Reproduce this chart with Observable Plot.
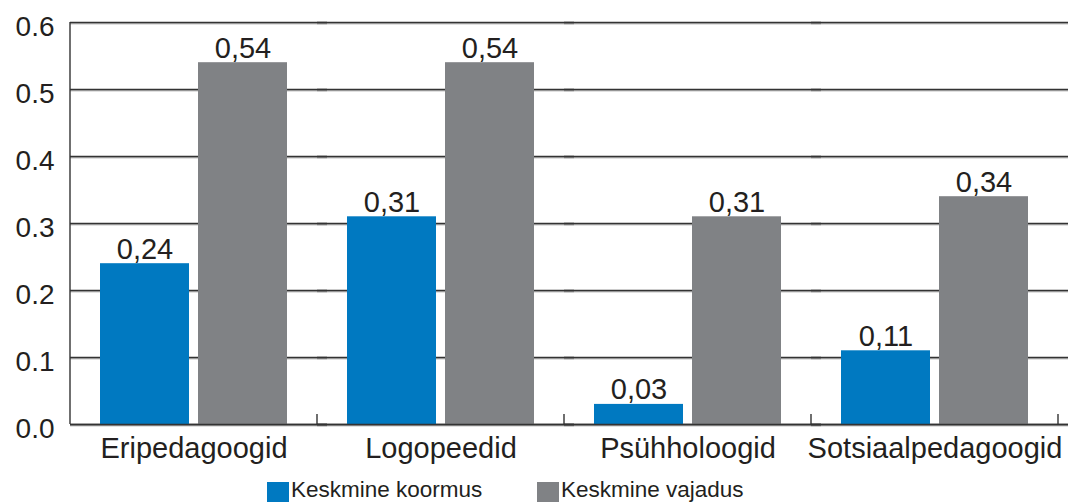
<!DOCTYPE html>
<html>
<head>
<meta charset="utf-8">
<script src="https://cdn.jsdelivr.net/npm/d3@7"></script>
<script src="https://cdn.jsdelivr.net/npm/@observablehq/plot@0.6"></script>
<style>
  html, body { margin: 0; padding: 0; background: #fff; }
  body { width: 1068px; height: 502px; overflow: hidden; font-family: "Liberation Sans", Arial, Helvetica, sans-serif; color: #231f20; }
  #legend { position: relative; height: 23px; margin-top: 9px; font-size: 22.5px; }
  .item { position: absolute; top: 0; display: flex; align-items: flex-start; white-space: nowrap; }
  .sw { width: 22px; height: 20px; margin-right: 2px; margin-top: 3px; }
  .lbl { line-height: 1; }
</style>
</head>
<body>
<div id="chart"></div>
<div id="legend"></div>
<script>
const categories = ["Eripedagoogid", "Logopeedid", "Psühholoogid", "Sotsiaalpedagoogid"];
const series = ["Keskmine koormus", "Keskmine vajadus"];
const koormus = [0.24, 0.31, 0.03, 0.11];
const vajadus = [0.54, 0.54, 0.31, 0.34];
const yTicks = [0, 0.1, 0.2, 0.3, 0.4, 0.5, 0.6];
const colors = ["#0079c1", "#808285"];

const data = categories.flatMap((c, i) => [
  {category: c, series: series[0], value: koormus[i]},
  {category: c, series: series[1], value: vajadus[i]}
]);
const fmtComma = v => d3.format(".2f")(v).replace(".", ",");

const plot = Plot.plot({
  width: 1068,
  height: 470,
  marginLeft: 69,
  marginRight: 10,
  marginTop: 22,
  marginBottom: 46,
  style: {fontFamily: "'Liberation Sans', Arial, Helvetica, sans-serif", color: "#231f20", background: "#fff"},
  fx: {domain: categories, padding: 0, label: null},
  x: {domain: series, paddingInner: 0.0909, paddingOuter: 0.293, axis: null},
  y: {domain: [0, 0.6], axis: null},
  color: {domain: series, range: colors},
  marks: [
    Plot.gridY(yTicks, {stroke: "#9a9a9a", strokeOpacity: 1, strokeWidth: 1, dy: 1.3, insetRight: -10}),
    Plot.gridY(yTicks, {stroke: "#333", strokeOpacity: 1, strokeWidth: 1.4, insetRight: -10}),
    Plot.barY(data, {fx: "category", x: "series", y: "value", fill: "series"}),
    Plot.ruleY([0], {stroke: "#333", strokeWidth: 1.4, insetRight: -10}),
    Plot.text(data, {fx: "category", x: "series", y: "value", text: d => fmtComma(d.value), dy: -5, lineAnchor: "bottom", fontSize: 29, fill: "#231f20"}),
    Plot.axisY(yTicks, {tickSize: 0, tickPadding: 16, tickFormat: d3.format(".1f"), fontSize: 28, dy: 5, label: null, fill: "#231f20"}),
    Plot.axisFx({anchor: "bottom", tickSize: 0, tickPadding: 13, fontSize: 29, label: null, fill: "#231f20"})
  ]
});

document.getElementById("chart").appendChild(plot);

// axis line and category boundary ticks, positioned through Plot's scales
const fx = plot.scale("fx");
const y = plot.scale("y");
const svg = d3.select(plot);
const y0 = y.apply(0), yTop = y.apply(0.6);
const left = fx.apply(categories[0]);
const g = svg.append("g").attr("stroke", "#333").attr("stroke-width", 1.4);
g.append("line").attr("x1", left).attr("x2", left).attr("y1", yTop).attr("y2", y0);
categories.forEach(c => {
  const xr = fx.apply(c) + fx.bandwidth;
  g.append("line").attr("x1", xr).attr("x2", xr).attr("y1", y0 - 10).attr("y2", y0);
});

// legend
const legend = d3.select("#legend");
const lefts = [267, 537];
series.forEach((s, i) => {
  const it = legend.append("div").attr("class", "item").style("left", lefts[i] + "px");
  it.append("div").attr("class", "sw").style("background", colors[i]);
  it.append("div").attr("class", "lbl").text(s);
});
</script>
</body>
</html>
